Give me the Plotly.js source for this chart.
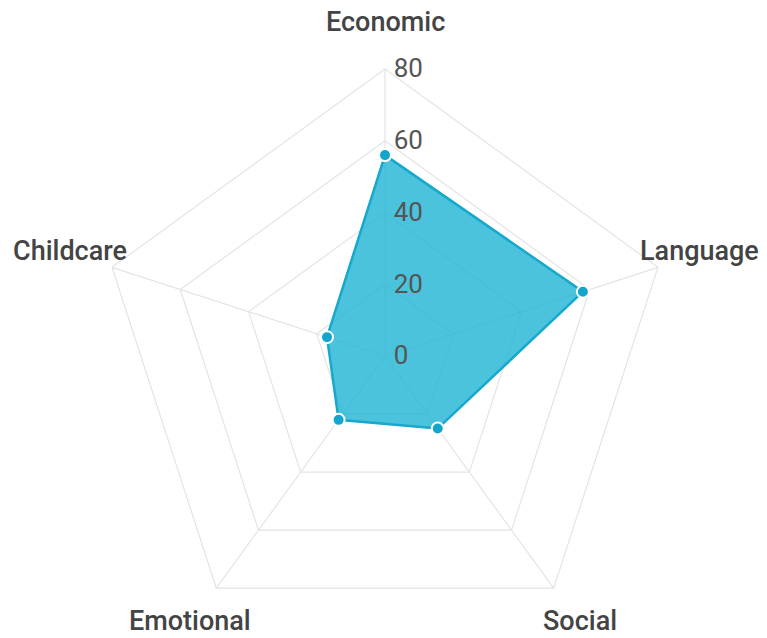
<!DOCTYPE html>
<html>
<head>
<meta charset="utf-8">
<script src="https://cdn.plot.ly/plotly-3.0.1.min.js"></script>
<style>
html, body { margin: 0; padding: 0; overflow: hidden; background: #fff; }
#chart { width: 767px; height: 650px; }
</style>
</head>
<body>
<div id="chart"></div>
<script>
const categories = ["Economic", "Language", "Social", "Emotional", "Childcare"];
const values = [56, 58, 25, 22, 17];
const radialTicks = [0, 20, 40, 60, 80];

const closedCats = categories.concat([categories[0]]);
const closedVals = values.concat([values[0]]);

// geometry of the polar area (pixels)
const W = 767, H = 650;
const CX = 385, CY = 356, R = 287;
const LABEL_DIST = 44, LABEL_LIFT = 3;

const trace = {
  type: "scatterpolar",
  r: closedVals,
  theta: closedCats,
  mode: "lines+markers",
  fill: "toself",
  fillcolor: "rgba(30,180,212,0.8)",
  line: { color: "#17a8cd", width: 2.5 },
  marker: { size: 12, color: "#13a6cc", line: { color: "#ffffff", width: 2 } },
  hoverinfo: "skip"
};

const annotations = categories.map((c, i) => {
  const a = (90 - 72 * i) * Math.PI / 180;
  const px = CX + (R + LABEL_DIST) * Math.cos(a);
  const py = CY - (R + LABEL_DIST) * Math.sin(a) - LABEL_LIFT;
  return {
    text: c, xref: "paper", yref: "paper",
    x: px / W, y: (H - py) / H,
    xanchor: "center", yanchor: "middle", showarrow: false,
    font: { size: 27, color: "#444444", weight: 500 }
  };
});

const layout = {
  width: W,
  height: H,
  margin: { l: 0, r: 0, t: 0, b: 0, autoexpand: false },
  paper_bgcolor: "#ffffff",
  showlegend: false,
  font: { family: "Roboto, 'Noto Sans', sans-serif" },
  annotations: annotations,
  polar: {
    domain: { x: [(CX - R) / W, (CX + R) / W], y: [(H - CY - R) / H, (H - CY + R) / H] },
    bgcolor: "rgba(0,0,0,0)",
    gridshape: "linear",
    radialaxis: {
      range: [0, 80],
      tickvals: radialTicks,
      ticktext: radialTicks.map(String),
      angle: 90,
      tickangle: 90,
      showline: false,
      ticks: "outside",
      ticklen: 3,
      tickcolor: "rgba(0,0,0,0)",
      gridcolor: "#e4e4e4",
      gridwidth: 1.2,
      tickfont: { size: 26, color: "#555555" },
      layer: "above traces"
    },
    angularaxis: {
      direction: "clockwise",
      rotation: 90,
      showline: true,
      linecolor: "#e4e4e4",
      linewidth: 1.2,
      gridcolor: "#e4e4e4",
      gridwidth: 1.2,
      ticks: "",
      showticklabels: false,
      layer: "below traces"
    }
  }
};

Plotly.newPlot("chart", [trace], layout, { displayModeBar: false, staticPlot: true });
</script>
</body>
</html>
